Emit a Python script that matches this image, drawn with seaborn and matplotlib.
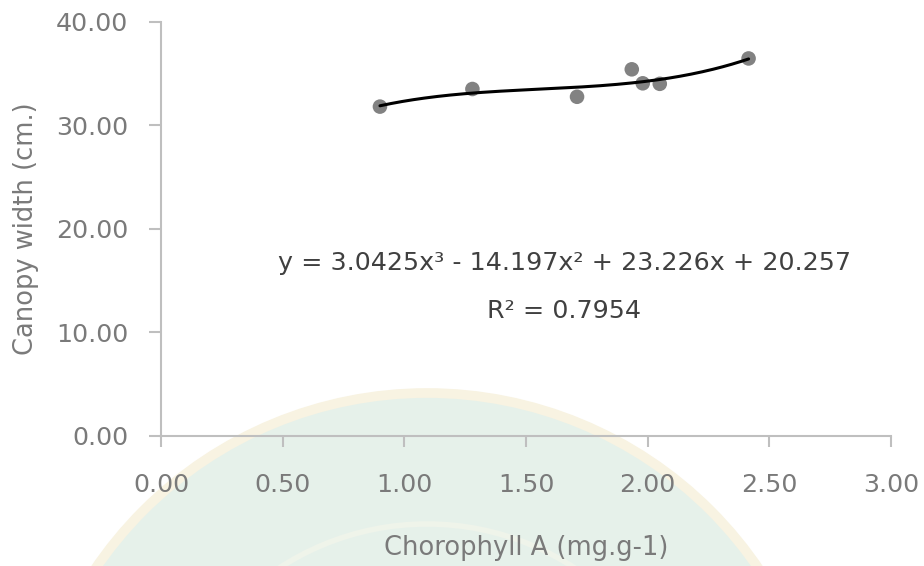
import numpy as np
import pandas as pd
import matplotlib
matplotlib.use("Agg")
import matplotlib.pyplot as plt
from matplotlib.patches import Ellipse
import seaborn as sns

# Measured samples
chlorophyll_a = [0.90, 1.28, 1.71, 1.935, 1.98, 2.05, 2.415]
canopy_width = [31.8, 33.5, 32.75, 35.4, 34.05, 34.0, 36.45]

# Cubic trend fit (highest power first) and its R²
trend_coefs = [3.0425, -14.197, 23.226, 20.257]
r_squared = 0.7954

x_ticks = [0.0, 0.5, 1.0, 1.5, 2.0, 2.5, 3.0]
y_ticks = [0.0, 10.0, 20.0, 30.0, 40.0]

sns.set_theme(style="white")
plt.rcParams["font.family"] = ["DejaVu Sans"]

fig = plt.figure(figsize=(9.24, 5.66), dpi=100)
ax = fig.add_axes([0.1742, 0.2297, 0.79, 0.7320])
ax.patch.set_alpha(0)

# faint seal in the lower part of the page
seal_c = (427 / 924, (566 - 794) / 566)
fig.add_artist(Ellipse(seal_c, 802 / 924, 802 / 566, transform=fig.transFigure,
                       facecolor="#e6f1ea", edgecolor="#f8f3e2", lw=7, zorder=-5))
fig.add_artist(Ellipse(seal_c, 540 / 924, 540 / 566, transform=fig.transFigure,
                       facecolor="none", edgecolor="#eff4ea", lw=4, zorder=-4))

df = pd.DataFrame({"chl": chlorophyll_a, "width": canopy_width})
sns.scatterplot(data=df, x="chl", y="width", ax=ax, s=110, color="#828282",
                edgecolor="none", zorder=3)

xs = np.linspace(min(chlorophyll_a), max(chlorophyll_a), 200)
trend = pd.DataFrame({"chl": xs, "width": np.polyval(trend_coefs, xs)})
sns.lineplot(data=trend, x="chl", y="width", ax=ax, color="black", lw=2.2, zorder=4)

a, b, c, d = trend_coefs
eq = f"y = {a:.4f}x³ - {abs(b):.3f}x² + {c:.3f}x + {d:.3f}"
ax.text(1.66, 16.7, eq, ha="center", va="center", fontsize=18.3, color="#404040")
ax.text(1.655, 12.05, f"R² = {r_squared:.4f}", ha="center", va="center",
        fontsize=18.3, color="#404040")

ax.set_xlim(0, 3)
ax.set_ylim(0, 40)
ax.set_xticks(x_ticks)
ax.set_yticks(y_ticks)
ax.set_xticklabels([f"{v:.2f}" for v in x_ticks])
ax.set_yticklabels([f"{v:.2f}" for v in y_ticks])

for side in ["top", "right"]:
    ax.spines[side].set_visible(False)
for side in ["left", "bottom"]:
    ax.spines[side].set_color("#bfbfbf")
    ax.spines[side].set_linewidth(1.5)

ax.tick_params(axis="both", colors="#bfbfbf", width=1.5, labelsize=18.3,
               labelcolor="#7a7a7a")
ax.tick_params(axis="y", direction="out", length=8.5, pad=15, left=True)
ax.tick_params(axis="x", direction="out", length=8, pad=19, bottom=True)

ax.set_xlabel("Chorophyll A (mg.g-1)", fontsize=18.5, color="#7a7a7a", labelpad=27)
ax.set_ylabel("Canopy width (cm.)", fontsize=18.5, color="#7a7a7a", labelpad=12)

fig.savefig("out.png", dpi=100)
